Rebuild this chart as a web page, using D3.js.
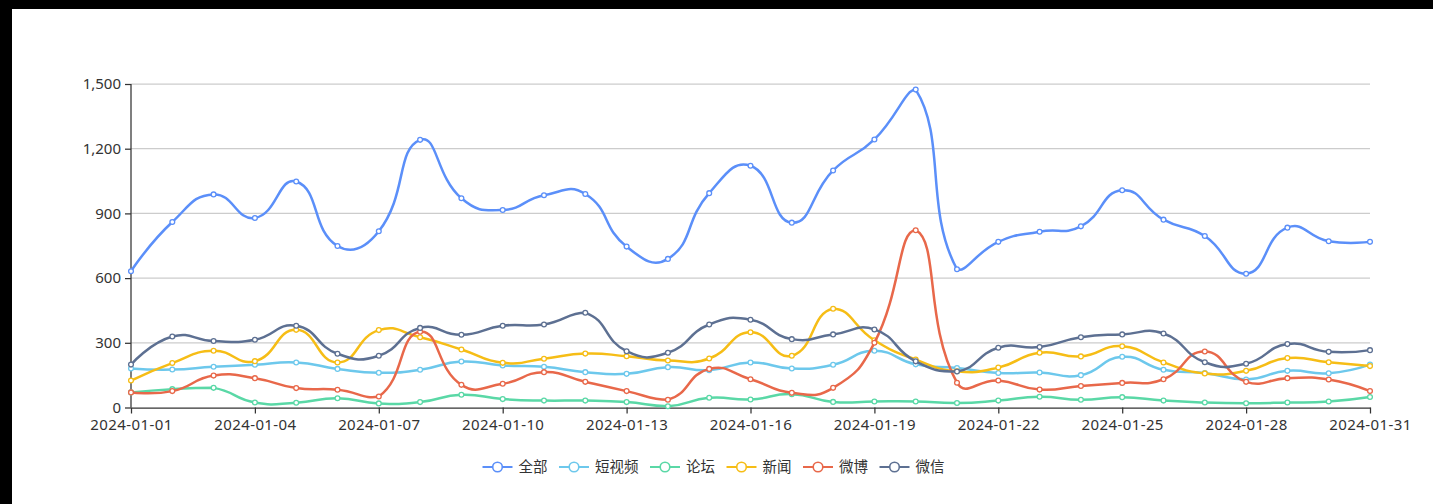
<!DOCTYPE html>
<html>
<head>
<meta charset="utf-8">
<script src="https://cdn.jsdelivr.net/npm/d3@7"></script>
<style>
html, body { margin: 0; padding: 0; background: #000; }
#chart { position: absolute; left: 12px; top: 9px; width: 1421px; height: 495px; background: #fff; }
text { font-family: "Noto Sans", "Noto Sans CJK SC", sans-serif; }
</style>
</head>
<body>
<div id="chart"></div>
<script>
const dates = ["2024-01-01","2024-01-02","2024-01-03","2024-01-04","2024-01-05","2024-01-06","2024-01-07",
  "2024-01-08","2024-01-09","2024-01-10","2024-01-11","2024-01-12","2024-01-13","2024-01-14","2024-01-15",
  "2024-01-16","2024-01-17","2024-01-18","2024-01-19","2024-01-20","2024-01-21","2024-01-22","2024-01-23",
  "2024-01-24","2024-01-25","2024-01-26","2024-01-27","2024-01-28","2024-01-29","2024-01-30","2024-01-31"];

const seriesNames = ["全部", "短视频", "论坛", "新闻", "微博", "微信"];
const colors = ["#5B8FF9", "#6DC8EC", "#5AD8A6", "#F6BD16", "#E8684A", "#5D7092"];

const allVals   = [632, 860, 988, 879, 1048, 749, 817, 1241, 970, 916, 984, 990, 746, 689, 994, 1121, 857, 1099, 1243, 1474, 641, 768, 815, 840, 1007, 871, 795, 620, 834, 771, 768];
const videoVals = [181, 176, 189, 198, 209, 179, 161, 175, 213, 195, 189, 164, 156, 187, 173, 209, 181, 198, 263, 200, 183, 160, 162, 150, 235, 175, 160, 130, 170, 159, 199];
const forumVals = [70, 85, 91, 23, 22, 43, 19, 25, 59, 39, 32, 32, 25, 6, 45, 37, 62, 26, 28, 28, 21, 32, 50, 36, 48, 32, 23, 20, 23, 28, 49];
const newsVals  = [125, 206, 263, 215, 360, 209, 359, 326, 269, 207, 226, 250, 238, 218, 227, 349, 240, 458, 312, 222, 168, 185, 254, 237, 284, 209, 158, 170, 229, 210, 192];
const weiboVals = [70, 76, 148, 136, 90, 82, 51, 351, 105, 110, 164, 119, 76, 36, 179, 131, 68, 91, 300, 822, 115, 125, 83, 100, 114, 131, 260, 119, 136, 130, 76];
const wechatVals = [199, 329, 308, 314, 379, 249, 240, 369, 337, 379, 385, 439, 261, 254, 385, 407, 317, 339, 362, 214, 167, 277, 280, 326, 339, 343, 210, 203, 294, 258, 266];

const yTicks = [0, 300, 600, 900, 1200, 1500];
const xTickDates = dates.filter((d, i) => i % 3 === 0);

const series = [allVals, videoVals, forumVals, newsVals, weiboVals, wechatVals];

// smoothing in the style of the echarts line: bezier control points from neighbours
function SmoothCurve(context) { this._context = context; }
SmoothCurve.prototype = {
  areaStart() {}, areaEnd() {},
  lineStart() { this._pts = []; },
  point(x, y) { this._pts.push([+x, +y]); },
  lineEnd() {
    const p = this._pts, ctx = this._context, s = 0.5;
    if (!p.length) return;
    const minX = d3.min(p, d => d[0]), maxX = d3.max(p, d => d[0]);
    const minY = d3.min(p, d => d[1]), maxY = d3.max(p, d => d[1]);
    const clamp = c => [Math.max(minX, Math.min(maxX, c[0])), Math.max(minY, Math.min(maxY, c[1]))];
    ctx.moveTo(p[0][0], p[0][1]);
    let cp0 = p[0].slice();
    for (let i = 1; i < p.length; i++) {
      const cur = p[i], prev = p[i - 1], next = p[i + 1];
      let cp1, ratio = 0.5, v = [0, 0];
      if (!next) {
        cp1 = cur.slice();
      } else {
        v = [next[0] - prev[0], next[1] - prev[1]];
        const l0 = Math.hypot(cur[0] - prev[0], cur[1] - prev[1]);
        const l1 = Math.hypot(next[0] - cur[0], next[1] - cur[1]);
        ratio = l1 / (l0 + l1);
        cp1 = [cur[0] - v[0] * s * (1 - ratio), cur[1] - v[1] * s * (1 - ratio)];
      }
      const a = clamp(cp0), b = clamp(cp1);
      ctx.bezierCurveTo(a[0], a[1], b[0], b[1], cur[0], cur[1]);
      cp0 = [cur[0] + v[0] * s * ratio, cur[1] + v[1] * s * ratio];
    }
  }
};

const width = 1421, height = 495;
const plotLeft = 119, plotRight = 1358, plotTop = 75, plotBottom = 398.5;

const svg = d3.select("#chart").append("svg")
  .attr("width", width)
  .attr("height", height);

const x = d3.scalePoint().domain(dates).range([plotLeft, plotRight]);
const y = d3.scaleLinear().domain([0, 1500]).range([plotBottom, plotTop]);

// grid
svg.append("g")
  .selectAll("line")
  .data(yTicks.filter(d => d > 0))
  .join("line")
  .attr("x1", plotLeft).attr("x2", plotRight)
  .attr("y1", d => y(d)).attr("y2", d => y(d))
  .attr("stroke", "#ccc")
  .attr("stroke-width", 1.25);

const yAxis = svg.append("g")
  .attr("transform", `translate(${plotLeft},0)`)
  .call(d3.axisLeft(y).tickValues(yTicks).tickSize(6).tickPadding(4).tickFormat(d3.format(",")));

const xAxis = svg.append("g")
  .attr("transform", `translate(0,${plotBottom})`)
  .call(d3.axisBottom(x).tickValues(xTickDates).tickSize(6).tickPadding(6).tickSizeOuter(0));

[yAxis, xAxis].forEach(g => {
  g.select(".domain").attr("stroke", "#333").attr("stroke-width", 1.25);
  g.selectAll(".tick line").attr("stroke", "#333").attr("stroke-width", 1.25);
  g.selectAll(".tick text").attr("fill", "#333").style("font-size", "15px");
});
xAxis.selectAll(".tick text").style("letter-spacing", "0.4px");
yAxis.select(".domain").attr("d", `M0,${y(1500)}V${y(0)}`);

const line = d3.line()
  .x((d, i) => x(dates[i]))
  .y(d => y(d))
  .curve(ctx => new SmoothCurve(ctx));

const layers = svg.append("g");
series.forEach((vals, si) => {
  const g = layers.append("g");
  g.append("path")
    .datum(vals)
    .attr("d", line)
    .attr("fill", "none")
    .attr("stroke", colors[si])
    .attr("stroke-width", 2.5)
    .attr("stroke-linejoin", "round");
  g.selectAll("circle")
    .data(vals)
    .join("circle")
    .attr("cx", (d, i) => x(dates[i]))
    .attr("cy", d => y(d))
    .attr("r", 2.4)
    .attr("fill", "#fff")
    .attr("stroke", colors[si])
    .attr("stroke-width", 1.3);
});

// legend
const legend = svg.append("g").attr("transform", "translate(0,458)");
const items = legend.selectAll("g")
  .data(seriesNames)
  .join("g");
items.append("line")
  .attr("x1", 0).attr("x2", 30)
  .attr("stroke", (d, i) => colors[i])
  .attr("stroke-width", 2);
items.append("circle")
  .attr("cx", 15).attr("r", 4.8)
  .attr("fill", "#fff")
  .attr("stroke", (d, i) => colors[i])
  .attr("stroke-width", 1.6);
items.append("text")
  .attr("x", 36).attr("dy", "0.35em")
  .attr("fill", "#333")
  .style("font-size", "14.5px")
  .text(d => d);

const widths = [];
items.each(function () { widths.push(36 + this.querySelector("text").getComputedTextLength()); });
const total = d3.sum(widths) + 11.5 * (widths.length - 1);
let cursor = 701.5 - total / 2;
items.attr("transform", (d, i) => {
  const t = `translate(${cursor},0)`;
  cursor += widths[i] + 11.5;
  return t;
});
</script>
</body>
</html>
